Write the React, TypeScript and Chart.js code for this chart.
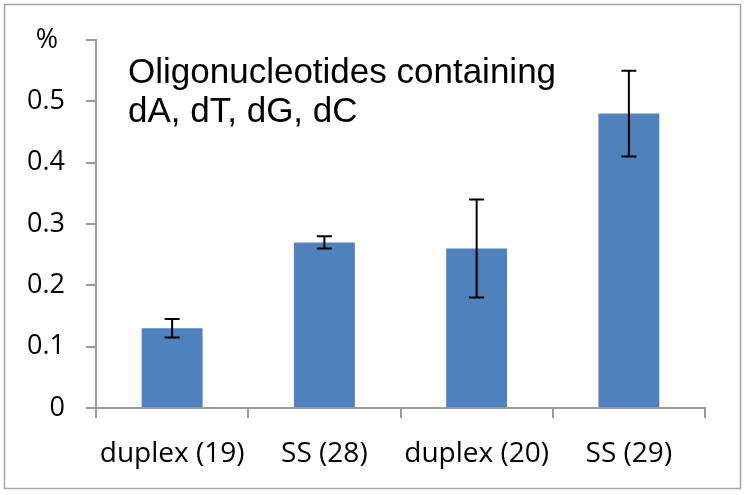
import React, { useEffect, useRef } from "react";
import { Chart, registerables } from "chart.js";

Chart.register(...registerables);

const categories = ["duplex (19)", "SS (28)", "duplex (20)", "SS (29)"];
const values = [0.13, 0.27, 0.26, 0.48];
const errors = [0.015, 0.01, 0.08, 0.07];
const titleLines = ["Oligonucleotides containing", "dA, dT, dG, dC"];
const yUnitLabel = "% ";

const AXIS_COLOR = "#9a9a9a";

const errorBarPlugin = {
  id: "errorBars",
  afterDatasetsDraw(chart: any) {
    const meta = chart.getDatasetMeta(0);
    const y = chart.scales.y;
    const ctx = chart.ctx;
    ctx.save();
    ctx.strokeStyle = "#000000";
    ctx.lineWidth = 2;
    meta.data.forEach((bar: any, i: number) => {
      const x = bar.x;
      const top = y.getPixelForValue(values[i] + errors[i]);
      const bot = y.getPixelForValue(values[i] - errors[i]);
      const cap = 7.5;
      ctx.beginPath();
      ctx.moveTo(x, top);
      ctx.lineTo(x, bot);
      ctx.moveTo(x - cap, top);
      ctx.lineTo(x + cap, top);
      ctx.moveTo(x - cap, bot);
      ctx.lineTo(x + cap, bot);
      ctx.stroke();
    });
    ctx.restore();
  },
};

const decorPlugin = {
  id: "decor",
  afterDraw(chart: any) {
    const ctx = chart.ctx;
    const area = chart.chartArea;
    ctx.save();
    ctx.fillStyle = "#000000";
    ctx.font = "35px 'Liberation Sans', Arial, sans-serif";
    ctx.textAlign = "left";
    ctx.textBaseline = "alphabetic";
    ctx.fillText(titleLines[0], area.left + 32, area.top + 43);
    ctx.fillText(titleLines[1], area.left + 32, area.top + 82);
    ctx.strokeStyle = "#a6a6a6";
    ctx.lineWidth = 1.5;
    ctx.strokeRect(4.5, 4.5, 736, 484);
    ctx.restore();
  },
};

export default function App() {
  const canvasRef = useRef<HTMLCanvasElement | null>(null);

  useEffect(() => {
    if (!canvasRef.current) return;
    const chart = new Chart(canvasRef.current, {
      type: "bar",
      data: {
        labels: categories,
        datasets: [
          {
            data: values,
            backgroundColor: "#4F81BD",
            borderWidth: 0,
            barPercentage: 0.4,
            categoryPercentage: 1,
          },
        ],
      },
      options: {
        animation: false,
        responsive: false,
        maintainAspectRatio: false,
        layout: { padding: { left: 0, top: 40, right: 42, bottom: 0 } },
        plugins: {
          legend: { display: false },
          tooltip: { enabled: false },
          title: { display: false },
        },
        scales: {
          x: {
            offset: true,
            grid: {
              display: true,
              drawOnChartArea: false,
              drawTicks: true,
              tickLength: 10,
              color: AXIS_COLOR,
              lineWidth: 2,
              offset: true,
            },
            border: { display: true, color: AXIS_COLOR, width: 2 },
            ticks: {
              color: "#000000",
              font: { family: "'Open Sans', sans-serif", size: 28 },
              padding: 19,
              maxRotation: 0,
              autoSkip: false,
            },
            afterFit: (s: any) => {
              s.height = 87;
            },
          },
          y: {
            min: 0,
            max: 0.6,
            grid: {
              display: true,
              drawOnChartArea: false,
              drawTicks: true,
              tickLength: 10,
              color: AXIS_COLOR,
              lineWidth: 2,
            },
            border: { display: true, color: AXIS_COLOR, width: 2 },
            ticks: {
              stepSize: 0.1,
              color: "#000000",
              font: { family: "'Open Sans', sans-serif", size: 27 },
              padding: 21,
              callback: (v: any) => {
                const r = Math.round(Number(v) * 10) / 10;
                if (r >= 0.6) return yUnitLabel;
                if (r === 0) return "0";
                return r.toFixed(1);
              },
            },
            afterFit: (s: any) => {
              s.width = 96;
            },
          },
        },
      },
      plugins: [errorBarPlugin, decorPlugin],
    });
    return () => chart.destroy();
  }, []);

  return (
    <div style={{ position: "absolute", left: 0, top: 0, width: 747, height: 495, background: "#ffffff" }}>
      <canvas ref={canvasRef} width={747} height={495} style={{ width: 747, height: 495 }} />
    </div>
  );
}
